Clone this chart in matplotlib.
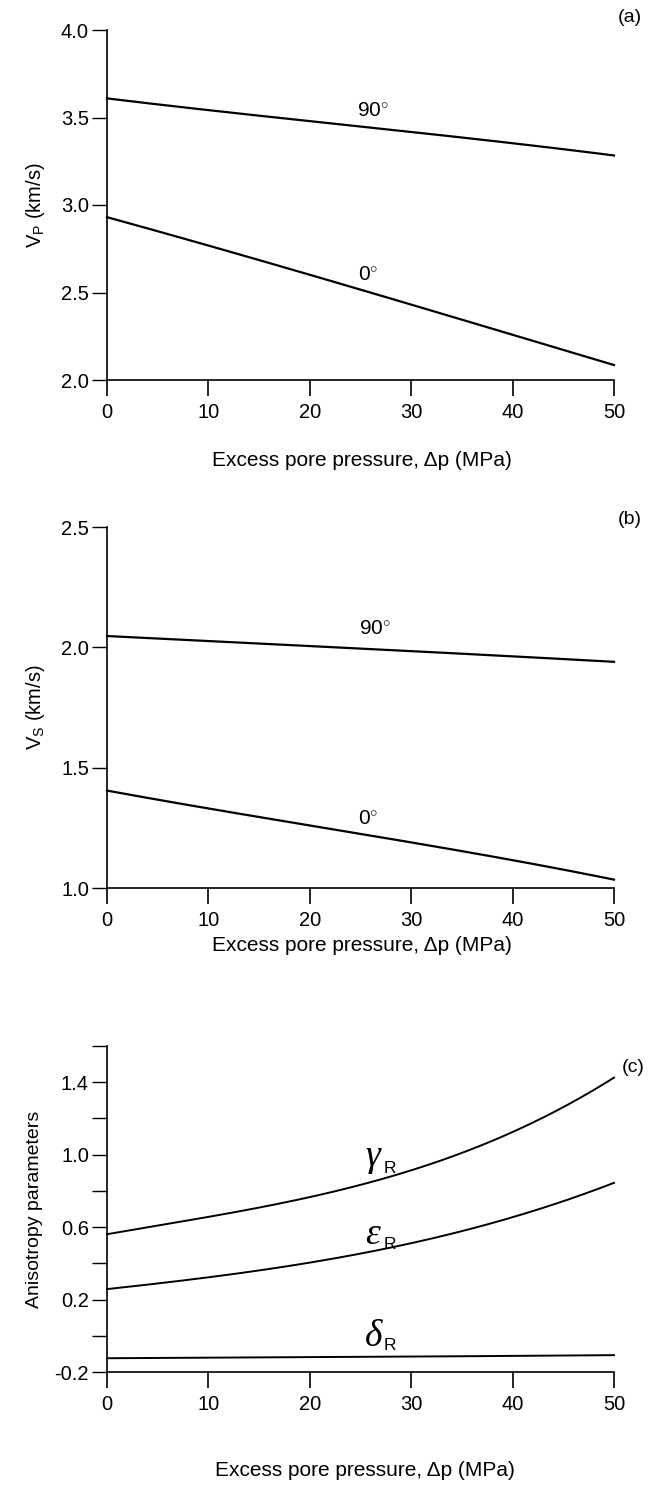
import matplotlib
matplotlib.use("Agg")
import matplotlib.pyplot as plt
import numpy as np

plt.rcParams['font.family'] = ['Liberation Sans', 'DejaVu Sans']
plt.rcParams['mathtext.fontset'] = 'custom'
plt.rcParams['mathtext.rm'] = 'Liberation Sans'
plt.rcParams['mathtext.it'] = 'Liberation Serif:italic'

# ---- data ----
pressure = [0, 10, 20, 30, 40, 50]
vp_90 = [3.61, 3.54, 3.48, 3.42, 3.35, 3.284]
vp_0 = [2.93, 2.77, 2.60, 2.43, 2.26, 2.085]
vs_90 = [2.047, 2.026, 2.005, 1.985, 1.962, 1.940]
vs_0 = [1.405, 1.33, 1.26, 1.19, 1.115, 1.035]
gamma_r = [0.562, 0.653, 0.767, 0.918, 1.12, 1.427]
eps_r = [0.258, 0.322, 0.404, 0.513, 0.653, 0.845]
delta_r = [-0.124, -0.121, -0.118, -0.115, -0.111, -0.107]

xticks = [0, 10, 20, 30, 40, 50]
xlabel = 'Excess pore pressure, \u0394p (MPa)'

W, H = 649, 1488
fig = plt.figure(figsize=(W / 100, H / 100), dpi=100)

def frac(left, top, right, bottom):
    return [left / W, 1 - bottom / H, (right - left) / W, (bottom - top) / H]

def style(ax, ylim, yticks, ylabels):
    ax.set_xlim(0, 50)
    ax.set_ylim(*ylim)
    for s in ['top', 'right']:
        ax.spines[s].set_visible(False)
    for s in ['left', 'bottom']:
        ax.spines[s].set_linewidth(1.2)
    ax.set_xticks(xticks)
    ax.set_xticklabels([str(v) for v in xticks])
    ax.set_yticks(yticks)
    ax.set_yticklabels(ylabels)
    ax.tick_params(axis='x', direction='out', length=11.5, width=1.2, labelsize=14.5, pad=5)
    ax.tick_params(axis='y', direction='out', length=11, width=1.0, labelsize=14.5, pad=2)

def smooth(x, y):
    xs = np.linspace(x[0], x[-1], 200)
    c = np.polyfit(x, y, 3)
    return xs, np.polyval(c, xs)

def px(x, y):
    return x / W, 1 - y / H

lw = 1.6
deg = '$^{\\circ}$'

# ---- panel (a) ----
ax1 = fig.add_axes(frac(107, 30, 614, 380))
for ys in (vp_90, vp_0):
    ax1.plot(*smooth(pressure, ys), color='black', lw=lw, clip_on=False)
style(ax1, (2.0, 4.0), [2.0, 2.5, 3.0, 3.5, 4.0], ['2.0', '2.5', '3.0', '3.5', '4.0'])
ax1.set_ylabel('V$_{\\rm P}$ (km/s)', fontsize=14.5, labelpad=10)
fig.text(*px(362, 460), xlabel, fontsize=15, ha='center', va='center')
ax1.text(26.2, 3.54, '90' + deg, fontsize=15, ha='center', va='center')
ax1.text(25.8, 2.60, '0' + deg, fontsize=15, ha='center', va='center')
fig.text(*px(630, 18), '(a)', fontsize=14, ha='center', va='center')

# ---- panel (b) ----
ax2 = fig.add_axes(frac(107, 527, 614, 888))
for ys in (vs_90, vs_0):
    ax2.plot(*smooth(pressure, ys), color='black', lw=lw, clip_on=False)
style(ax2, (1.0, 2.5), [1.0, 1.5, 2.0, 2.5], ['1.0', '1.5', '2.0', '2.5'])
ax2.set_ylabel('V$_{\\rm S}$ (km/s)', fontsize=14.5, labelpad=10)
fig.text(*px(362, 945), xlabel, fontsize=15, ha='center', va='center')
ax2.text(26.4, 2.08, '90' + deg, fontsize=15, ha='center', va='center')
ax2.text(25.8, 1.29, '0' + deg, fontsize=15, ha='center', va='center')
fig.text(*px(630, 519), '(b)', fontsize=14, ha='center', va='center')

# ---- panel (c) ----
ax3 = fig.add_axes(frac(107, 1046, 614, 1372))
for ys in (gamma_r, eps_r, delta_r):
    ax3.plot(*smooth(pressure, ys), color='black', lw=1.4, clip_on=False)
cticks = [-0.2, 0.0, 0.2, 0.4, 0.6, 0.8, 1.0, 1.2, 1.4, 1.6]
clabels = ['-0.2', '', '0.2', '', '0.6', '', '1.0', '', '1.4', '']
style(ax3, (-0.2, 1.6), cticks, clabels)
ax3.set_ylabel('Anisotropy parameters', fontsize=14, labelpad=8)
fig.text(*px(365, 1470), xlabel, fontsize=15, ha='center', va='center')
greek = [('$\\gamma$', 0.98), ('$\\varepsilon$', 0.56), ('$\\delta$', 0.0)]
for sym, yv in greek:
    ax3.text(26.3, yv, sym, fontsize=27, ha='center', va='center')
    ax3.text(27.9, yv - 0.055, 'R', fontsize=12.5, ha='center', va='center')
fig.text(*px(633, 1067), '(c)', fontsize=14, ha='center', va='center')

fig.savefig('out.png', dpi=100)
